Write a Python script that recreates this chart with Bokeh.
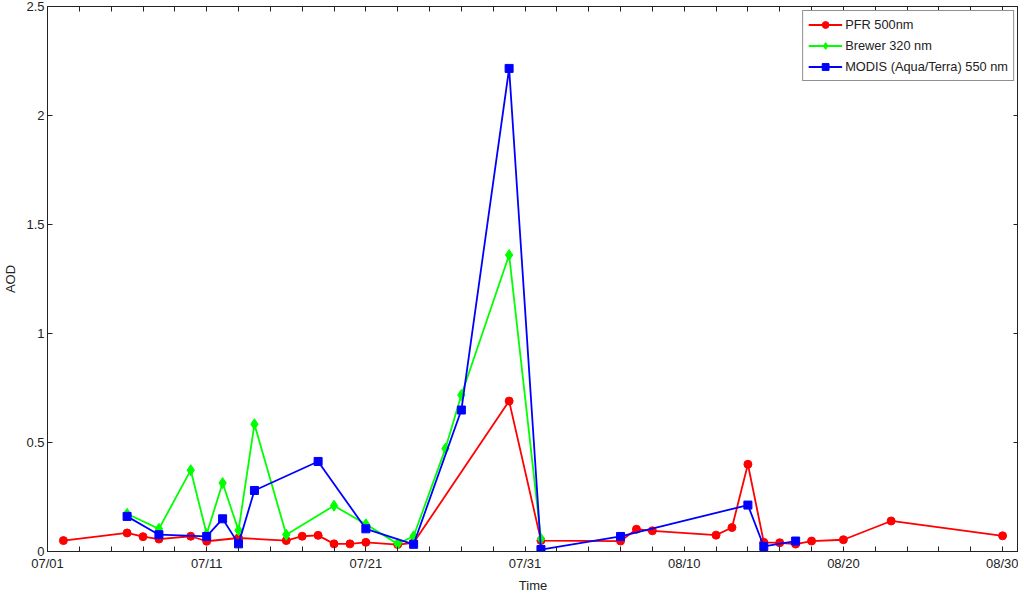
from datetime import date
from bokeh.plotting import figure
from bokeh.models import (Range1d, FixedTicker, LinearAxis, Legend, LegendItem,
                          CustomJSTickFormatter)
from bokeh.embed import file_html
from bokeh.resources import INLINE

# ---------------- data ----------------
YEAR = 2013
x_labels = ["07/01", "07/11", "07/21", "07/31", "08/10", "08/20", "08/30"]
y_ticks = [0, 0.5, 1, 1.5, 2, 2.5]

pfr_dates = ["07/02", "07/06", "07/07", "07/08", "07/10", "07/11", "07/13", "07/16",
             "07/17", "07/18", "07/19", "07/20", "07/21", "07/23", "07/24", "07/30",
             "08/01", "08/06", "08/07", "08/08", "08/12", "08/13", "08/14", "08/15",
             "08/16", "08/17", "08/18", "08/20", "08/23", "08/30"]
pfr_aod = [0.05, 0.085, 0.068, 0.057, 0.07, 0.047, 0.062, 0.05,
           0.07, 0.074, 0.035, 0.035, 0.042, 0.032, 0.04, 0.69,
           0.05, 0.048, 0.102, 0.095, 0.075, 0.11, 0.40, 0.042,
           0.04, 0.034, 0.048, 0.054, 0.14, 0.072]

brewer_dates = ["07/06", "07/08", "07/10", "07/11", "07/12", "07/13", "07/14", "07/16",
                "07/19", "07/21", "07/23", "07/24", "07/26", "07/27", "07/30", "08/01"]
brewer_aod = [0.173, 0.104, 0.373, 0.08, 0.314, 0.097, 0.584, 0.077,
              0.21, 0.125, 0.035, 0.07, 0.472, 0.718, 1.36, 0.058]

modis_dates = ["07/06", "07/08", "07/11", "07/12", "07/13", "07/14", "07/18", "07/21",
               "07/24", "07/27", "07/30", "08/01", "08/06", "08/14", "08/15", "08/17"]
modis_aod = [0.161, 0.077, 0.069, 0.15, 0.035, 0.28, 0.413, 0.104,
             0.033, 0.649, 2.216, 0.009, 0.069, 0.213, 0.023, 0.048]

# ---------------- helpers ----------------
START = date(YEAR, 7, 1)


def day(s):
    m, d = map(int, s.split("/"))
    return (date(YEAR, m, d) - START).days


FONT = "Liberation Sans"
x_end = day("08/31")
x_major = list(range(0, x_end, 2))
overrides = {t: "" for t in x_major}
for lab in x_labels:
    overrides[day(lab)] = lab

p = figure(width=1018, height=595, x_range=Range1d(0, x_end), y_range=Range1d(0, 2.5),
           output_backend="svg", toolbar_location=None,
           min_border_left=30, min_border_right=0, min_border_top=6, min_border_bottom=0)
p.grid.visible = False
p.outline_line_color = "#222222"
p.background_fill_color = "white"
p.border_fill_color = "white"

# bottom axis
xa = p.xaxis[0]
xa.ticker = FixedTicker(ticks=x_major)
xa.major_label_overrides = overrides
xa.axis_label = "Time"
ya = p.yaxis[0]
ya.ticker = FixedTicker(ticks=y_ticks)
ya.formatter = CustomJSTickFormatter(code="return tick.toString();")
ya.axis_label = "AOD"

# extra axes for the inward ticks on top and right
top = LinearAxis(ticker=FixedTicker(ticks=x_major),
                 formatter=CustomJSTickFormatter(code="return '';"))
right = LinearAxis(ticker=FixedTicker(ticks=y_ticks),
                   formatter=CustomJSTickFormatter(code="return '';"))
p.add_layout(top, "above")
p.add_layout(right, "right")

for ax in [xa, ya, top, right]:
    ax.major_tick_in = 5
    ax.major_tick_out = 0
    ax.minor_tick_line_color = None
    ax.axis_line_color = "#222222"
    ax.major_tick_line_color = "#222222"
    ax.major_label_text_font = FONT
    ax.major_label_text_font_size = "13px"
    ax.major_label_text_color = "#222222"
    ax.axis_label_text_font = FONT
    ax.axis_label_text_font_size = "13px"
    ax.axis_label_text_font_style = "normal"
    ax.axis_label_text_color = "#222222"
for ax in [top, right]:
    ax.major_label_standoff = 0
    ax.major_label_text_font_size = "0px"
xa.major_label_standoff = 4
xa.axis_label_standoff = 4
ya.major_label_standoff = 3
ya.axis_label_standoff = 5

# series
px = [day(s) for s in pfr_dates]
bx = [day(s) for s in brewer_dates]
mx = [day(s) for s in modis_dates]

l1 = p.line(px, pfr_aod, line_color="#ff0000", line_width=1.8)
s1 = p.scatter(px, pfr_aod, marker="circle", size=8, fill_color="#ff0000", line_color="#ff0000")
l2 = p.line(bx, brewer_aod, line_color="#00ff00", line_width=1.8)
s2 = p.scatter(bx, brewer_aod, marker="diamond", size=11, fill_color="#00ff00", line_color="#00ff00")
l3 = p.line(mx, modis_aod, line_color="#0000ff", line_width=1.8)
s3 = p.scatter(mx, modis_aod, marker="square", size=8, fill_color="#0000ff", line_color="#0000ff")

legend = Legend(items=[LegendItem(label="PFR 500nm", renderers=[l1, s1]),
                       LegendItem(label="Brewer 320 nm", renderers=[l2, s2]),
                       LegendItem(label="MODIS (Aqua/Terra) 550 nm", renderers=[l3, s3])],
                location="top_right")
legend.border_line_color = "#222222"
legend.border_line_width = 1
legend.label_text_font = FONT
legend.label_text_font_size = "12.8px"
legend.label_text_color = "#222222"
legend.glyph_width = 34
legend.glyph_height = 17
legend.spacing = 4
legend.padding = 5
legend.margin = 4
legend.label_standoff = 3
legend.background_fill_alpha = 1
p.add_layout(legend)

open("out.html", "w").write(file_html(p, INLINE))
